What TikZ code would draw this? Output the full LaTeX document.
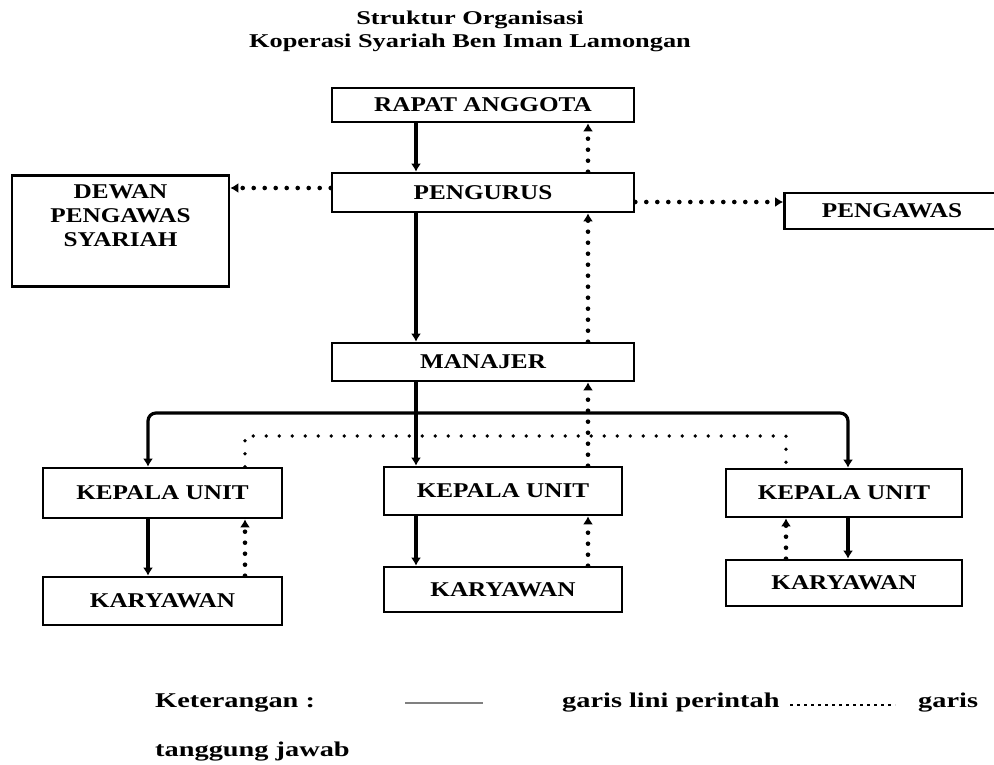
\documentclass[tikz,border=0pt]{standalone}
\usepackage{fontspec}
\setmainfont{Liberation Serif}[FakeStretch=1.2]
\newfontfamily\widefont{Liberation Serif}[FakeStretch=1.35]
\usetikzlibrary{arrows.meta}
\begin{document}
\begin{tikzpicture}[x=1pt,y=-1pt,
  lbl/.style={font=\bfseries\fontsize{21}{24}\selectfont},
  box/.style={draw, line width=2.6pt, inner sep=0pt, align=center, lbl},
  tip/.style={-{Latex[length=8pt,width=10pt]}},
  lini/.style={line width=3.2pt, tip},
  tj/.style={line width=4.6pt, line cap=round, dash pattern=on 0pt off 11pt, tip},
  tjbare/.style={line width=3.8pt, line cap=round, dash pattern=on 0pt off 13pt},
  txt/.style={anchor=west, inner sep=0pt, font=\widefont\bfseries\fontsize{21}{24}\selectfont}
]
\useasboundingbox (0,0) rectangle (994,765);

% title
\node[inner sep=0pt, align=center, font=\widefont\bfseries\fontsize{19.5}{23}\selectfont] (title) at (470,31)
  {Struktur Organisasi\\Koperasi Syariah Ben Iman Lamongan};

% boxes
\node[box, minimum width=302, minimum height=34] (rapat) at (483,105) {RAPAT ANGGOTA};
\node[box, minimum width=302, minimum height=39] (pengurus) at (483,192.5) {PENGURUS};
\node[box, minimum width=217, minimum height=111] (dewan) at (120.5,231) {DEWAN\\PENGAWAS\\SYARIAH\\ \strut};
\node[box, minimum width=215, minimum height=36] (pengawas) at (892,211) {PENGAWAS};
\node[box, minimum width=302, minimum height=38] (manajer) at (483,362) {MANAJER};
\node[box, minimum width=239, minimum height=50] (ku1) at (162.5,493) {KEPALA UNIT};
\node[box, minimum width=239, minimum height=48] (ky1) at (162.5,601) {KARYAWAN};
\node[box, minimum width=238, minimum height=48] (ku2) at (503,491) {KEPALA UNIT};
\node[box, minimum width=238, minimum height=45] (ky2) at (503,589.5) {KARYAWAN};
\node[box, minimum width=236, minimum height=48] (ku3) at (844,493) {KEPALA UNIT};
\node[box, minimum width=236, minimum height=46] (ky3) at (844,583) {KARYAWAN};

% column / row coordinates
\coordinate (cA) at (416,0);
\coordinate (cB) at (588,0);
\coordinate (cL) at (148,0);
\coordinate (cLd) at (245,0);
\coordinate (cR) at (848,0);
\coordinate (cRd) at (786,0);
\coordinate (hy) at (0,413);
\coordinate (dy) at (0,436);
\coordinate (yDw) at (0,188);
\coordinate (yPw) at (0,202);

% garis lini perintah
\draw[lini] (rapat.south -| cA) -- (pengurus.north -| cA);
\draw[lini] (pengurus.south -| cA) -- (manajer.north -| cA);
\draw[lini] (manajer.south -| cA) -- (ku2.north -| cA);
\draw[lini, rounded corners=8pt] (cA |- hy) -- (cL |- hy) -- (ku1.north -| cL);
\draw[lini, rounded corners=8pt] (cA |- hy) -- (cR |- hy) -- (ku3.north -| cR);
\draw[lini] (ku1.south -| cL) -- (ky1.north -| cL);
\draw[lini] (ku2.south -| cA) -- (ky2.north -| cA);
\draw[lini] (ku3.south -| cR) -- (ky3.north -| cR);

% garis tanggung jawab
\draw[tj] (pengurus.north -| cB) -- (rapat.south -| cB);
\draw[tj] (manajer.north -| cB) -- (pengurus.south -| cB);
\draw[tj] (ku2.north -| cB) -- (manajer.south -| cB);
\draw[tj] (pengurus.west |- yDw) -- (dewan.east |- yDw);
\draw[tj] (pengurus.east |- yPw) -- (pengawas.west |- yPw);
\draw[tjbare] (ku1.north -| cLd) -- (cLd |- dy) -- (cRd |- dy) -- (ku3.north -| cRd);
\draw[tj] (ky1.north -| cLd) -- (ku1.south -| cLd);
\draw[tj] (ky2.north -| cB) -- (ku2.south -| cB);
\draw[tj] (ky3.north -| cRd) -- (ku3.south -| cRd);

% keterangan
\node[txt] (ket) at (155,703) {Keterangan :};
\coordinate (legA) at (405,703);
\coordinate (legB) at (483,703);
\draw[gray, line width=1.6pt] (legA) -- (legB);
\node[txt] (lp) at (562,703) {garis lini perintah};
\coordinate (legC) at (790,705);
\coordinate (legD) at (895,705);
\draw[line width=2pt, dash pattern=on 3pt off 4pt] (legC) -- (legD);
\node[txt] (gr) at (918,703) {garis};
\node[txt] (tjw) at (155,752) {tanggung jawab};
\end{tikzpicture}
\end{document}
